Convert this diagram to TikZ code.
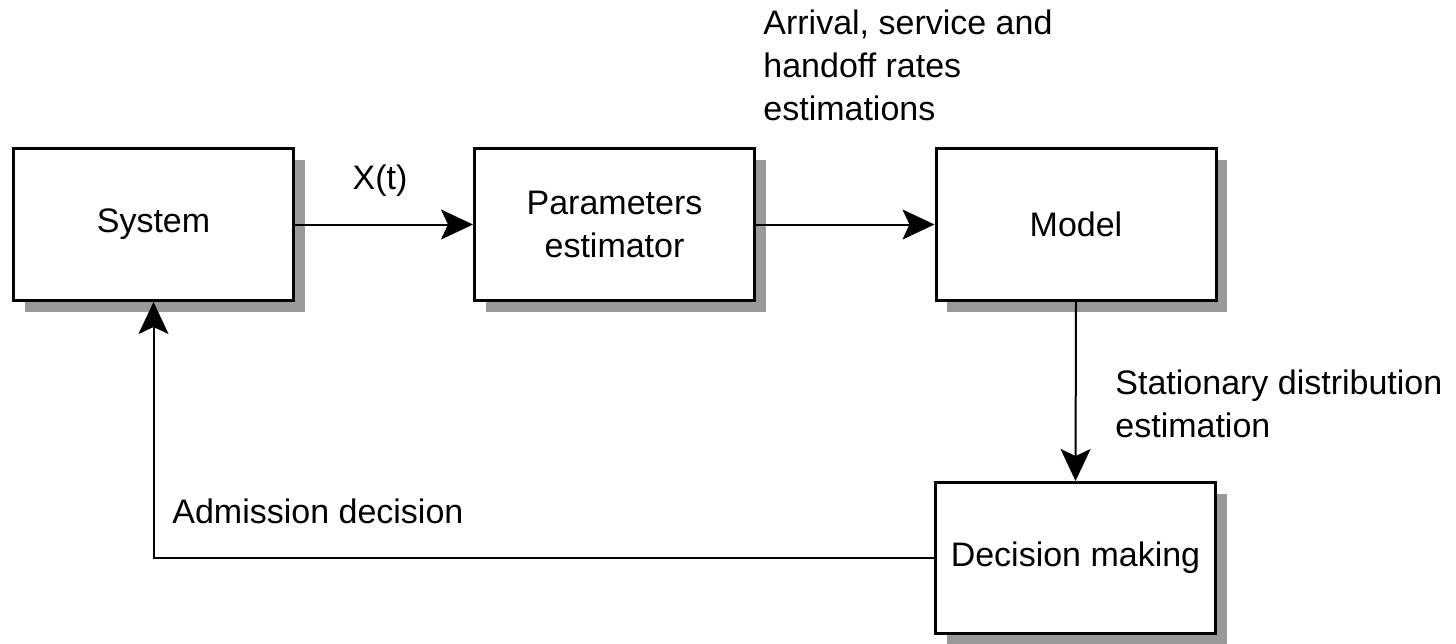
\documentclass[tikz,border=0pt]{standalone}
\usepackage{fontspec}
\setmainfont{Liberation Sans}
\usetikzlibrary{arrows.meta,shadows}
\begin{document}
\begin{tikzpicture}[x=0.5pt,y=-0.5pt,
  font=\fontsize{17pt}{21.5pt}\selectfont,
  blk/.style={draw, line width=1.5pt, fill=white, minimum width=140pt, minimum height=76pt,
    align=center, inner sep=0pt,
    drop shadow={shadow xshift=5.5pt, shadow yshift=-5.5pt, fill=black!40, opacity=1}},
  conn/.style={line width=1pt, -{Stealth[length=16pt,width=15pt,inset=3.5pt]}},
  lbl/.style={inner sep=0pt, align=left}]
\useasboundingbox (0,0) rectangle (1456,643);
\node[blk] (sys) at (153.5,224.5) {System};
\node[blk] (par) at (614.5,224.5) {Parameters\\estimator};
\node[blk] (mod) at (1076,224.5) {Model};
\node[blk, minimum height=75.5pt] (dec) at (1075.5,558) {Decision making};
\draw[conn] (sys.east) -- (par.west);
\draw[conn] (par.east) -- (mod.west);
\draw[conn] (mod.south) -- (dec.north);
\draw[conn] (dec.west) -| (sys.south);
\node[lbl] (xt) at (380,181) {X(t)};
\node[lbl, anchor=west] (arr) at (763,65) {Arrival, service and\\handoff rates\\estimations};
\node[lbl, anchor=west] (sta) at (1115,403.5) {Stationary distribution\\estimation};
\node[lbl, anchor=west] (adm) at (172,511) {Admission decision};
\end{tikzpicture}
\end{document}
